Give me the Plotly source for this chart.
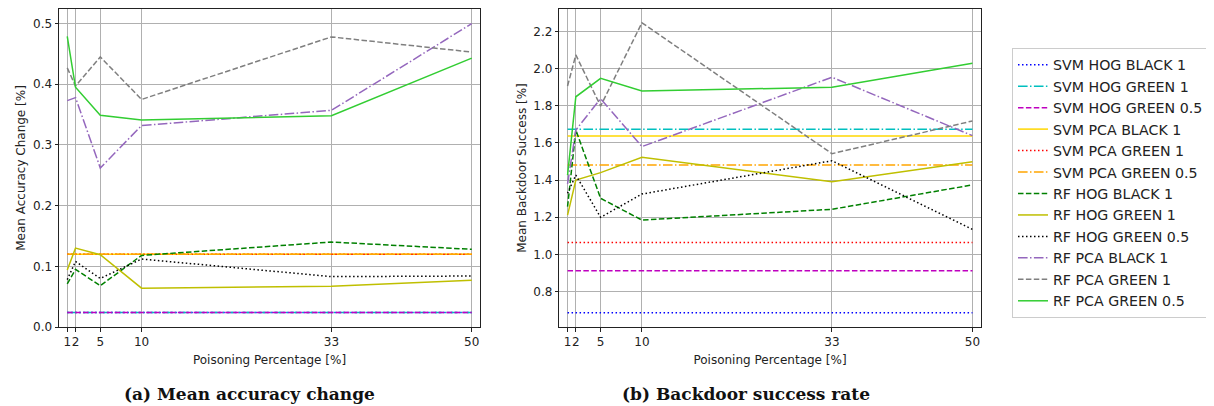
import plotly.graph_objects as go

# The page body has an 8px margin; the figure is sized/offset to compensate.
OFF = 8
W, H = 1214 - OFF, 406 - OFF


def px(rx):
    return (rx - OFF) / W


def py(ry):
    return 1 - (ry - OFF) / H


x_vals = [1, 2, 5, 10, 33, 50]
tick_vals = [1, 2, 5, 10, 33, 50]

series_names = [
    "SVM HOG BLACK 1", "SVM HOG GREEN 1", "SVM HOG GREEN 0.5",
    "SVM PCA BLACK 1", "SVM PCA GREEN 1", "SVM PCA GREEN 0.5",
    "RF HOG BLACK 1", "RF HOG GREEN 1", "RF HOG GREEN 0.5",
    "RF PCA BLACK 1", "RF PCA GREEN 1", "RF PCA GREEN 0.5",
]

# (a) Mean accuracy change
acc_svm_hog_black_1 = [0.024] * 6
acc_svm_hog_green_1 = [0.024] * 6
acc_svm_hog_green_05 = [0.024] * 6
acc_svm_pca_black_1 = [0.120] * 6
acc_svm_pca_green_1 = [0.120] * 6
acc_svm_pca_green_05 = [0.120] * 6
acc_rf_hog_black_1 = [0.071, 0.095, 0.068, 0.118, 0.140, 0.128]
acc_rf_hog_green_1 = [0.094, 0.130, 0.119, 0.064, 0.067, 0.077]
acc_rf_hog_green_05 = [0.078, 0.108, 0.080, 0.112, 0.083, 0.084]
acc_rf_pca_black_1 = [0.373, 0.378, 0.262, 0.332, 0.357, 0.500]
acc_rf_pca_green_1 = [0.427, 0.397, 0.445, 0.375, 0.478, 0.453]
acc_rf_pca_green_05 = [0.479, 0.395, 0.349, 0.341, 0.348, 0.443]

# (b) Backdoor success rate
bd_svm_hog_black_1 = [0.687] * 6
bd_svm_hog_green_1 = [1.673] * 6
bd_svm_hog_green_05 = [0.913] * 6
bd_svm_pca_black_1 = [1.637] * 6
bd_svm_pca_green_1 = [1.064] * 6
bd_svm_pca_green_05 = [1.481] * 6
bd_rf_hog_black_1 = [1.257, 1.669, 1.302, 1.185, 1.243, 1.374]
bd_rf_hog_green_1 = [1.212, 1.400, 1.440, 1.523, 1.391, 1.499]
bd_rf_hog_green_05 = [1.329, 1.427, 1.200, 1.325, 1.504, 1.135]
bd_rf_pca_black_1 = [1.380, 1.669, 1.838, 1.580, 1.953, 1.639]
bd_rf_pca_green_1 = [1.906, 2.073, 1.798, 2.246, 1.542, 1.718]
bd_rf_pca_green_05 = [1.427, 1.848, 1.947, 1.879, 1.899, 2.028]

acc_series = [acc_svm_hog_black_1, acc_svm_hog_green_1, acc_svm_hog_green_05,
              acc_svm_pca_black_1, acc_svm_pca_green_1, acc_svm_pca_green_05,
              acc_rf_hog_black_1, acc_rf_hog_green_1, acc_rf_hog_green_05,
              acc_rf_pca_black_1, acc_rf_pca_green_1, acc_rf_pca_green_05]
bd_series = [bd_svm_hog_black_1, bd_svm_hog_green_1, bd_svm_hog_green_05,
             bd_svm_pca_black_1, bd_svm_pca_green_1, bd_svm_pca_green_05,
             bd_rf_hog_black_1, bd_rf_hog_green_1, bd_rf_hog_green_05,
             bd_rf_pca_black_1, bd_rf_pca_green_1, bd_rf_pca_green_05]

DOT = "1.5px,2.5px"
DASH = "5.5px,2.4px"
DASHDOT = "9.6px,2.4px,1.5px,2.4px"
SOLID = "solid"

colors = ["#0000ff", "#00bfbf", "#bf00bf",
          "#ffd700", "#ff0000", "#ffa500",
          "#008000", "#bfbf00", "#000000",
          "#9467bd", "#7f7f7f", "#32cd32"]
dashes = [DOT, DASHDOT, DASH,
          SOLID, DOT, DASHDOT,
          DASH, SOLID, DOT,
          DASHDOT, DASH, SOLID]

fig = go.Figure()
for i, name in enumerate(series_names):
    fig.add_trace(go.Scatter(x=x_vals, y=acc_series[i], mode="lines", name=name,
                             line=dict(color=colors[i], dash=dashes[i], width=1.5),
                             xaxis="x", yaxis="y", showlegend=True,
                             legendgroup=name))
for i, name in enumerate(series_names):
    fig.add_trace(go.Scatter(x=x_vals, y=bd_series[i], mode="lines", name=name,
                             line=dict(color=colors[i], dash=dashes[i], width=1.5),
                             xaxis="x2", yaxis="y2", showlegend=False,
                             legendgroup=name))

font_family = "DejaVu Sans"
ax_common = dict(showline=True, linecolor="#222", linewidth=1, mirror=True,
                 ticks="outside", ticklen=3.5, tickcolor="#222", tickangle=0,
                 automargin=False,
                 showgrid=True, gridcolor="#b0b0b0", gridwidth=0.8,
                 zeroline=False, tickfont=dict(family=font_family, size=12, color="#222"))

ydom = [py(327), py(9)]
fig.update_layout(
    width=W, height=H, margin=dict(l=0, r=0, t=0, b=0),
    paper_bgcolor="white", plot_bgcolor="white",
    font=dict(family=font_family, size=12, color="#222"),
    xaxis=dict(domain=[px(59), px(480)], range=[0, 51], tickmode="array",
               tickvals=tick_vals, ticktext=[str(t) for t in tick_vals],
               title=dict(text="Poisoning Percentage [%]", standoff=7,
                          font=dict(size=12)), anchor="y", **ax_common),
    yaxis=dict(domain=ydom, range=[0, 0.524], tickmode="array",
               tickvals=[0, 0.1, 0.2, 0.3, 0.4, 0.5],
               ticktext=["0.0", "0.1", "0.2", "0.3", "0.4", "0.5"],
               title=dict(text="Mean Accuracy Change [%]", standoff=4,
                          font=dict(size=12)), anchor="x", **ax_common),
    xaxis2=dict(domain=[px(559.3), px(980.7)], range=[0, 51], tickmode="array",
                tickvals=tick_vals, ticktext=[str(t) for t in tick_vals],
                title=dict(text="Poisoning Percentage [%]", standoff=7,
                           font=dict(size=12)), anchor="y2", **ax_common),
    yaxis2=dict(domain=ydom, range=[0.61, 2.32], tickmode="array",
                tickvals=[0.8, 1.0, 1.2, 1.4, 1.6, 1.8, 2.0, 2.2],
                ticktext=["0.8", "1.0", "1.2", "1.4", "1.6", "1.8", "2.0", "2.2"],
                title=dict(text="Mean Backdoor Success [%]", standoff=4,
                           font=dict(size=12)), anchor="x2", **ax_common),
    legend=dict(x=px(1012), y=py(48), xanchor="left", yanchor="top",
                bordercolor="#cccccc", borderwidth=1, bgcolor="white",
                font=dict(family=font_family, size=14.2, color="#222"),
                tracegroupgap=0, itemwidth=30),
    annotations=[
        dict(text="<b>(a) Mean accuracy change</b>", x=px(249), y=py(394),
             xref="paper", yref="paper", xanchor="center", yanchor="middle",
             showarrow=False, font=dict(family="DejaVu Serif", size=17, color="#111")),
        dict(text="<b>(b) Backdoor success rate</b>", x=px(746), y=py(394),
             xref="paper", yref="paper", xanchor="center", yanchor="middle",
             showarrow=False, font=dict(family="DejaVu Serif", size=17, color="#111")),
    ],
)

fig.write_html("out.html")
